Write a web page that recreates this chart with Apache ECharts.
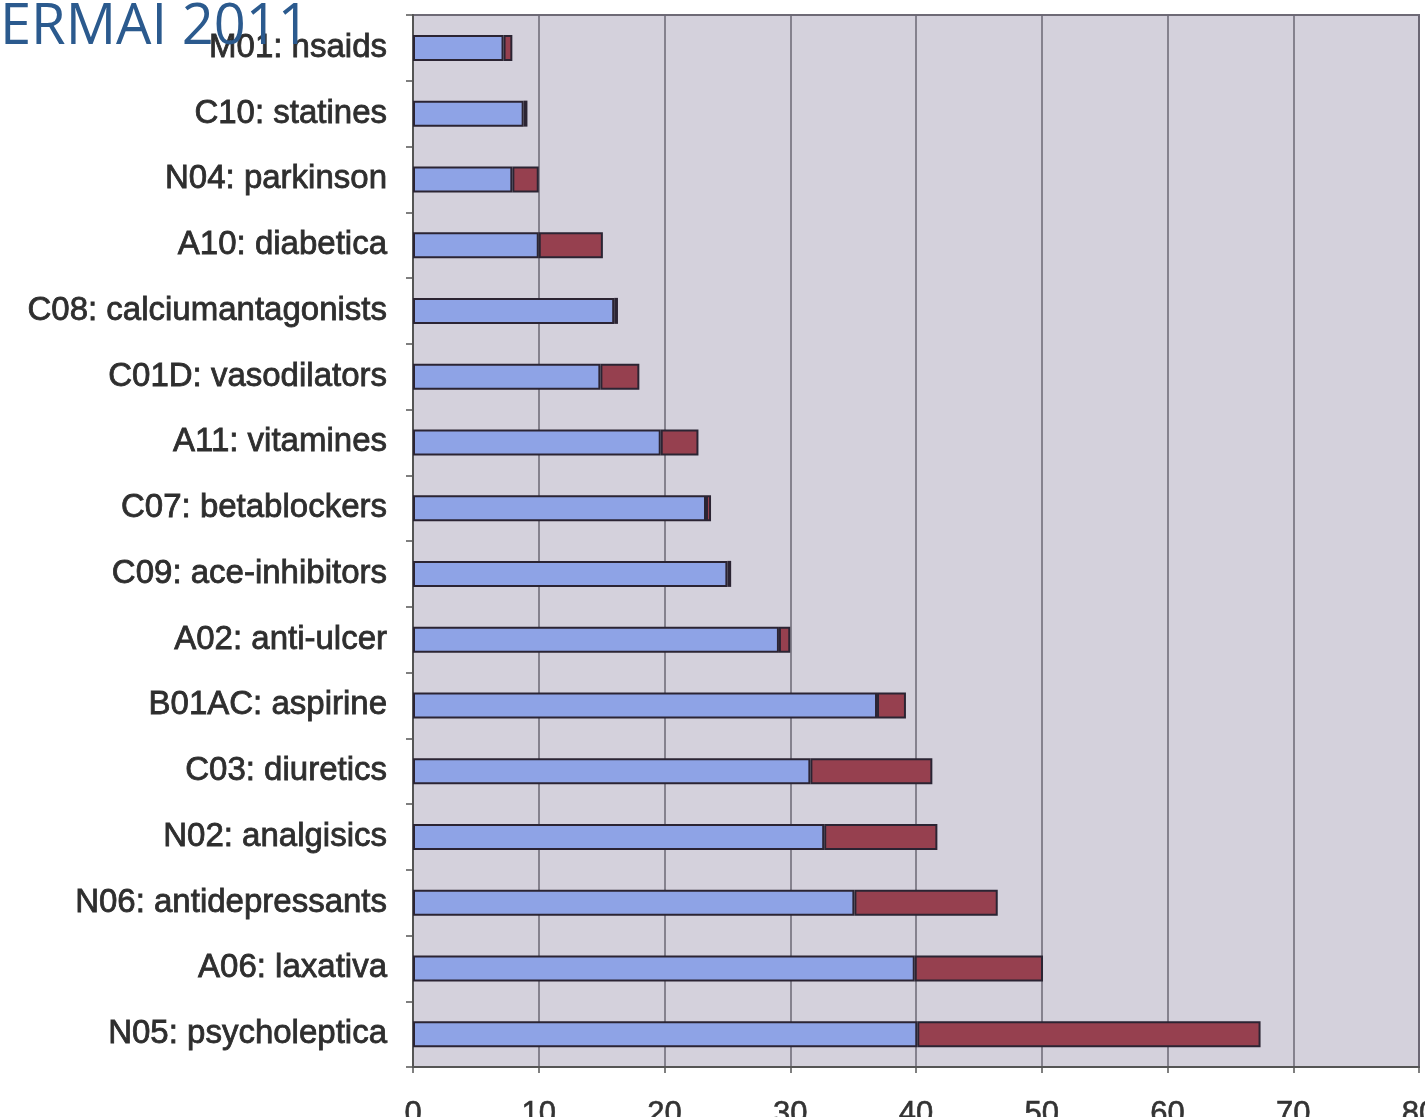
<!DOCTYPE html>
<html>
<head>
<meta charset="utf-8">
<script src="https://cdn.jsdelivr.net/npm/echarts@6/dist/echarts.min.js"></script>
<style>
  html, body { margin: 0; padding: 0; background: #ffffff; }
  #chart { width: 1425px; height: 1117px; }
</style>
</head>
<body>
<div id="chart"></div>
<script>
// Drug classes (ATC), listed top to bottom
const categories = [
  'M01: nsaids', 'C10: statines', 'N04: parkinson', 'A10: diabetica',
  'C08: calciumantagonists', 'C01D: vasodilators', 'A11: vitamines',
  'C07: betablockers', 'C09: ace-inhibitors', 'A02: anti-ulcer',
  'B01AC: aspirine', 'C03: diuretics', 'N02: analgisics',
  'N06: antidepressants', 'A06: laxativa', 'N05: psycholeptica'
];
// First (blue) segment of each bar
const blueValues = [7.2, 8.8, 7.9, 10.0, 16.0, 14.9, 19.7, 23.3, 25.0, 29.1, 36.9, 31.6, 32.7, 35.1, 39.9, 40.1];
// Second (red) segment stacked on top
const redValues = [0.7, 0.3, 2.1, 5.1, 0.3, 3.1, 3.0, 0.4, 0.3, 0.9, 2.3, 9.7, 9.0, 11.4, 10.2, 27.3];
const xTicks = { min: 0, max: 80, interval: 10 };
const titleText = 'ERMAI 2011';

const chart = echarts.init(document.getElementById('chart'), null, { renderer: 'canvas' });

const barBorder = { borderColor: '#2b2433', borderWidth: 2 };

chart.setOption({
  animation: false,
  backgroundColor: '#ffffff',
  grid: {
    left: 413, right: 6, top: 15, bottom: 50,
    containLabel: false,
    outerBoundsMode: 'none',
    show: true,
    backgroundColor: '#d4d1dc',
    borderColor: '#6e6a76',
    borderWidth: 2
  },
  xAxis: {
    type: 'value',
    min: xTicks.min, max: xTicks.max, interval: xTicks.interval,
    axisLine: { show: true, lineStyle: { color: '#555', width: 2 } },
    axisTick: { show: true, length: 6, lineStyle: { color: '#555', width: 1.5 } },
    axisLabel: {
      color: '#333', fontFamily: 'Liberation Sans', fontSize: 31,
      textBorderColor: '#333', textBorderWidth: 0.6,
      margin: 32, hideOverlap: false, showMaxLabel: true
    },
    splitLine: { show: true, lineStyle: { color: '#6b6775', width: 1.5 } }
  },
  yAxis: {
    type: 'category',
    data: categories,
    inverse: true,
    axisLine: { show: true, lineStyle: { color: '#555', width: 2 } },
    axisTick: { show: true, length: 7, lineStyle: { color: '#555', width: 1.5 } },
    axisLabel: {
      color: '#2e2e2e', fontFamily: 'Liberation Sans', fontSize: 33,
      textBorderColor: '#2e2e2e', textBorderWidth: 0.8,
      margin: 26
    }
  },
  series: [
    {
      type: 'bar', stack: 'total', data: blueValues, barWidth: 26,
      itemStyle: Object.assign({ color: '#8ea3e6' }, barBorder)
    },
    {
      type: 'bar', stack: 'total', data: redValues, barWidth: 26,
      itemStyle: Object.assign({ color: '#96404f' }, barBorder)
    }
  ],
  graphic: [
    {
      type: 'text', left: 0, top: 0, z: 100,
      style: {
        text: titleText,
        font: '56px "Open Sans", "Liberation Sans", sans-serif',
        fill: '#2b5a8e'
      }
    }
  ]
});
</script>
</body>
</html>
